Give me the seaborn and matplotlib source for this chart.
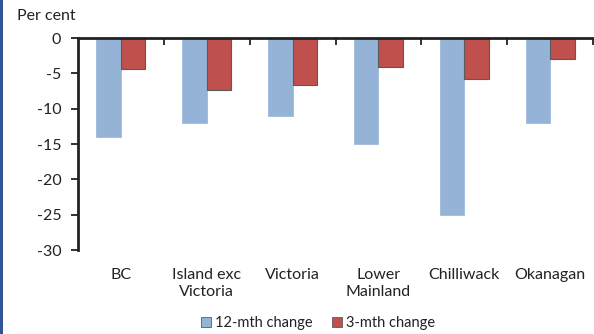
import matplotlib
matplotlib.use("Agg")
from matplotlib import pyplot as plt
from matplotlib.patches import Rectangle
from matplotlib.ticker import FixedLocator
import pandas as pd
import seaborn as sns

regions = ["BC", "Island exc\nVictoria", "Victoria", "Lower\nMainland",
           "Chilliwack", "Okanagan"]
change_12m = [-14.0, -12.0, -11.0, -15.0, -25.0, -12.0]
change_3m = [-4.4, -7.4, -6.6, -4.1, -5.8, -3.0]
series_names = ["12-mth change", "3-mth change"]
y_ticks = [0, -5, -10, -15, -20, -25, -30]

sns.set_theme(style="white")
plt.rcParams['font.family'] = ['Lato', 'DejaVu Sans']

df = pd.DataFrame({
    "region": regions * 2,
    "series": [series_names[0]] * len(regions) + [series_names[1]] * len(regions),
    "value": change_12m + change_3m,
})

fig = plt.figure(figsize=(5.94, 3.34), dpi=100)
ax = fig.add_axes([78 / 594, 1 - 250 / 334, (593 - 78) / 594, 212 / 334])

sns.barplot(data=df, x="region", y="value", hue="series",
            palette=["#95B3D7", "#C0504D"], width=0.57, ax=ax,
            saturation=1, legend=True)

# red bars get a dark outline, like the original
n = len(regions)
for i, p in enumerate(ax.patches[:2 * n]):
    if i >= n:
        p.set_edgecolor("#5a5a5a")
        p.set_linewidth(0.8)
    else:
        p.set_edgecolor("#95B3D7")
        p.set_linewidth(0.5)

ax.set_ylim(-30, 0)
ax.set_xlim(-0.5, n - 0.5)
ax.set_yticks(y_ticks)
ax.set_yticklabels([str(t) for t in y_ticks], fontsize=11.5)
ax.set_xlabel("")
ax.set_ylabel("")
ax.set_xticks(range(n))
ax.set_xticklabels(regions, fontsize=11.5, linespacing=1.3)
ax.tick_params(axis="x", which="major", length=0, pad=13, colors="#222222")
ax.tick_params(axis="y", which="major", direction="out", length=5, width=1.3,
               left=True, color="#222222", labelcolor="#222222", pad=7)
ax.xaxis.set_minor_locator(FixedLocator([i + 0.5 for i in range(n)]))
ax.tick_params(axis="x", which="minor", top=True, bottom=False,
               direction="in", length=5, width=1.3, color="#222222")

for side in ["right", "bottom"]:
    ax.spines[side].set_visible(False)
for side in ["left", "top"]:
    ax.spines[side].set_color("#222222")
    ax.spines[side].set_linewidth(2)
ax.spines["top"].set_zorder(5)

fig.text(17 / 594, 1 - 16 / 334, "Per cent", fontsize=11.5, color="#222222",
         va="center", ha="left")

handles, labels = ax.get_legend_handles_labels()
ax.get_legend().remove()
for h in handles:
    h.set_edgecolor("#5a5a5a")
    h.set_linewidth(0.6)
fig.legend(handles, labels, loc="center", bbox_to_anchor=(318 / 594, 1 - 323 / 334),
           ncol=2, frameon=False, fontsize=10.5, handlelength=0.7,
           handleheight=0.7, handletextpad=0.3, columnspacing=1.3,
           labelcolor="#222222")

fig.patches.append(Rectangle((0, 0), 3 / 594, 1, transform=fig.transFigure,
                             facecolor="#2F5597", edgecolor="none"))

fig.savefig("out.png", dpi=100)
